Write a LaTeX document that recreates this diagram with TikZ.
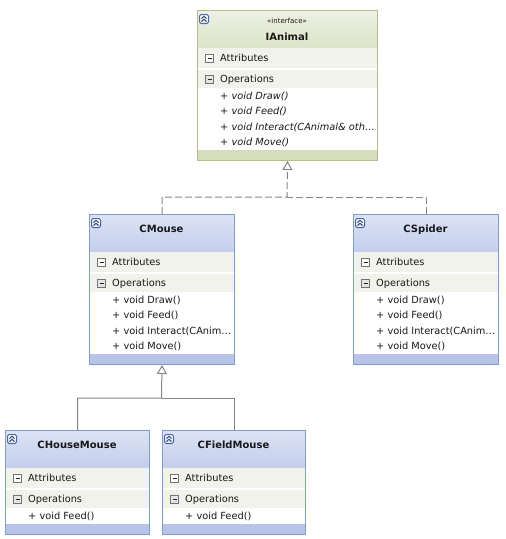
\documentclass[tikz,border=0pt]{standalone}
\usepackage{fontspec}
\setmainfont{DejaVu Sans}
\usetikzlibrary{arrows.meta}
\definecolor{ifacetop}{HTML}{EEF1E4}
\definecolor{ifacebot}{HTML}{DCE3C6}
\definecolor{ifaceborder}{HTML}{B3BB93}
\definecolor{ifaceband}{HTML}{D5DDBC}
\definecolor{clstop}{HTML}{DCE3F5}
\definecolor{clsbot}{HTML}{C3CEEC}
\definecolor{clsborder}{HTML}{7D9ED2}
\definecolor{clsband}{HTML}{B7C4E7}
\definecolor{rowfill}{HTML}{F1F3EA}
\definecolor{iconline}{HTML}{4A69A6}
\definecolor{linkgray}{HTML}{858585}
\tikzset{
  classtext/.style={font=\fontsize{9.8pt}{11pt}\selectfont,text=black!90,inner sep=0pt},
  clsops/.style={classtext},
  ifaceops/.style={classtext,font=\fontsize{9.8pt}{11pt}\selectfont\itshape},
  clstitle/.style={classtext,font=\fontsize{10pt}{11pt}\selectfont\bfseries},
  ifacetitle/.style={clstitle,yshift=-12pt,label={[classtext,font=\fontsize{7pt}{8pt}\selectfont,label distance=9pt]above:«interface»}},
  clshead/.style={top color=clstop,bottom color=clsbot},
  ifacehead/.style={top color=ifacetop,bottom color=ifacebot},
  clsframe/.style={draw=clsborder,line width=1pt},
  ifaceframe/.style={draw=ifaceborder,line width=1pt},
  collapse/.style={draw=iconline,top color=white,bottom color=clstop,rounded corners=1.5pt,line width=1pt},
  chevron/.style={draw=iconline!70!black,line width=1pt},
  minusbox/.style={draw=black!55,top color=white,bottom color=black!12,line width=0.8pt},
  realize/.style={draw=linkgray,line width=1pt,dash pattern=on 7pt off 3pt},
  inherit/.style={draw=linkgray,line width=1pt},
  opentip/.style={-{Triangle[open,length=9pt,width=10pt]}}
}
\newcommand{\umlclass}[8]{%
  \pgfmathsetmacro\boxh{88+15.5*#7}%
  \fill[white](#2,#3)rectangle++(#4,\boxh);
  \shade[#5head](#2,#3)rectangle++(#4,38);
  \fill[rowfill](#2,#3+38)rectangle++(#4,20);
  \fill[rowfill](#2,#3+60)rectangle++(#4,18);
  \fill[#5band](#2,#3+\boxh-10)rectangle++(#4,10);
  \node[#5frame,anchor=north west,inner sep=0pt,minimum width=#4pt,minimum height=\boxh pt](#1)at(#2,#3){};
  \path[collapse](#2+2.5,#3+4.5)rectangle++(9,9);
  \path[chevron](#2+4.5,#3+8.5)--++(2.5,-2.2)--++(2.5,2.2)(#2+4.5,#3+11.5)--++(2.5,-2.2)--++(2.5,2.2);
  \node[#5title,anchor=base](#1-name)at(#2+#4/2,#3+18.5){#6};
  \path[minusbox](#2+8.5,#3+44)rectangle++(8,8)(#2+8.5,#3+65)rectangle++(8,8);
  \draw[black!85,line width=1pt](#2+10.5,#3+48)--++(4,0)(#2+10.5,#3+69)--++(4,0);
  \node[classtext,anchor=base west](#1-attr)at(#2+23,#3+51.5){Attributes};
  \node[classtext,anchor=base west](#1-oper)at(#2+23,#3+72.5){Operations};
  \foreach\op[count=\i]in{#8}\node[#5ops,anchor=base west](#1-op\i)at(#2+23,#3+73.5+15.5*\i){\op};
}
\begin{document}
\begin{tikzpicture}[x=1pt,y=-1pt]
\useasboundingbox(0,0)rectangle(506,539);
\umlclass{ianimal}{197}{10}{180}{iface}{IAnimal}{4}{{+ void Draw()},{+ void Feed()},{+ void Interact(CAnimal\& oth\ldots},{+ void Move()}}
\umlclass{cmouse}{89}{214}{145}{cls}{CMouse}{4}{{+ void Draw()},{+ void Feed()},{+ void Interact(CAnim\ldots},{+ void Move()}}
\umlclass{cspider}{353}{214}{145}{cls}{CSpider}{4}{{+ void Draw()},{+ void Feed()},{+ void Interact(CAnim\ldots},{+ void Move()}}
\umlclass{chousemouse}{5}{430}{144}{cls}{CHouseMouse}{1}{{+ void Feed()}}
\umlclass{cfieldmouse}{162}{430}{143}{cls}{CFieldMouse}{1}{{+ void Feed()}}
\coordinate(ifork)at(287,197);
\coordinate(cfork)at(161.5,398);
\draw[realize,opentip](cmouse.north)|-(ifork)--(ianimal.south);
\draw[realize](cspider.north)|-(ifork);
\draw[inherit,opentip](chousemouse.north)|-(cfork)--(cmouse.south);
\draw[inherit](cfieldmouse.north)|-(cfork);
\end{tikzpicture}
\end{document}
